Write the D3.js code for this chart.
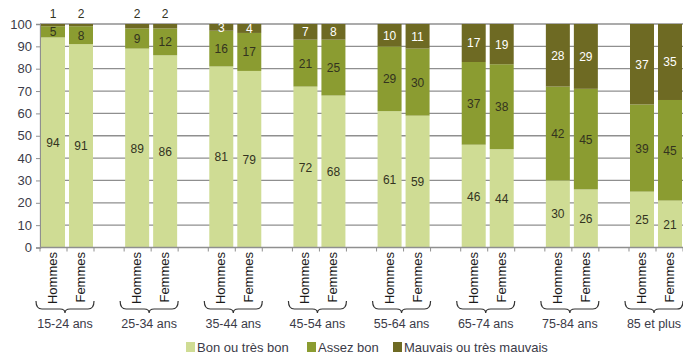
<!DOCTYPE html>
<html>
<head>
<meta charset="utf-8">
<script src="https://cdn.jsdelivr.net/npm/d3@7"></script>
<style>
	body { margin: 0; background: #fff; }
	svg { display: block; }
	text { font-family: "Liberation Sans", Arial, sans-serif; fill: #3b3b48; }
</style>
</head>
<body>
<div id="chart"></div>
<script>

// data
var ages = ["15-24 ans", "25-34 ans", "35-44 ans", "45-54 ans", "55-64 ans", "65-74 ans", "75-84 ans", "85 et plus"];
var sexes = ["Hommes", "Femmes"];
var bon_h = [94, 89, 81, 72, 61, 46, 30, 25];
var bon_f = [91, 86, 79, 68, 59, 44, 26, 21];
var assez_h = [5, 9, 16, 21, 29, 37, 42, 39];
var assez_f = [8, 12, 17, 25, 30, 38, 45, 45];
var mauvais_h = [1, 2, 3, 7, 10, 17, 28, 37];
var mauvais_f = [2, 2, 4, 8, 11, 19, 29, 35];
var series_names = ["Bon ou très bon", "Assez bon", "Mauvais ou très mauvais"];
var colors = ["#cfdc94", "#8b9c31", "#6e6a23"];
var y_ticks = [0, 10, 20, 30, 40, 50, 60, 70, 80, 90, 100];

function build_rows(){
	var rows = [];
	for (var i = 0; i < ages.length; i++){
		rows.push({age: ages[i], sex: "Hommes", v: [bon_h[i], assez_h[i], mauvais_h[i]]});
		rows.push({age: ages[i], sex: "Femmes", v: [bon_f[i], assez_f[i], mauvais_f[i]]});
	}
	return rows;
}

function render_chart(){
	var W = 683, H = 355;
	var svg = d3.select("#chart").append("svg")
		.attr("width", W).attr("height", H);

	var rows = build_rows();

	var x0 = d3.scaleBand().domain(ages).range([41, 682]).paddingInner(0.382).paddingOuter(0);
	var x1 = d3.scaleBand().domain(sexes).range([0, x0.bandwidth()]).paddingInner(0.143).paddingOuter(0);
	var y = d3.scaleLinear().domain([0, 100]).range([247.5, 24]).clamp(true);

	// grid lines
	svg.append("g")
		.selectAll("line")
		.data(y_ticks.slice(1))
		.enter().append("line")
		.attr("x1", 40).attr("x2", W)
		.attr("y1", function(d){ return y(d); })
		.attr("y2", function(d){ return y(d); })
		.attr("stroke", "#8f8f8f").attr("stroke-width", 1.3);

	// y axis
	var yAxis = svg.append("g")
		.attr("transform", "translate(40,0)")
		.call(d3.axisLeft(y).tickValues(y_ticks).tickSize(4).tickPadding(4));
	yAxis.select(".domain").attr("stroke", "#8f8f8f").attr("stroke-width", 1.3);
	yAxis.selectAll(".tick line").attr("stroke", "#8f8f8f");
	yAxis.selectAll("text").attr("font-size", 13).attr("fill", "#3b3b48")
		.attr("font-family", "Liberation Sans, Arial, sans-serif");

	// stacked bars
	var bars = svg.append("g").selectAll("g")
		.data(rows)
		.enter().append("g")
		.attr("transform", function(d){ return "translate(" + (x0(d.age) + x1(d.sex)) + ",0)"; });

	bars.each(function(d){
		var g = d3.select(this);
		var base = 0;
		for (var k = 0; k < 3; k++){
			var lo = base, hi = base + d.v[k];
			base = hi;
			g.append("rect")
				.attr("x", 0)
				.attr("width", x1.bandwidth())
				.attr("y", y(hi))
				.attr("height", y(lo) - y(hi))
				.attr("fill", colors[k]);
			var cy = (y(lo) + y(hi)) / 2;
			var small = d.v[k] <= 2 && k == 2;
			g.append("text")
				.attr("x", x1.bandwidth() / 2)
				.attr("y", small ? 18 : cy + 4.5)
				.attr("text-anchor", "middle")
				.attr("font-size", 12)
				.style("fill", (k == 2 && !small) ? "#ffffff" : "#33331f")
				.text(d.v[k]);
		}
	});

	// x axis line and ticks at bar edges
	svg.append("line")
		.attr("x1", 40).attr("x2", W)
		.attr("y1", y(0)).attr("y2", y(0))
		.attr("stroke", "#8f8f8f").attr("stroke-width", 1.3);
	var tick_pos = [];
	ages.forEach(function(a){
		tick_pos.push(x0(a) - 1, x0(a) + x1("Femmes") - 2, x0(a) + x0.bandwidth() + 1);
	});
	svg.append("g").selectAll("line")
		.data(tick_pos)
		.enter().append("line")
		.attr("x1", function(d){ return d; }).attr("x2", function(d){ return d; })
		.attr("y1", y(0)).attr("y2", y(0) + 4)
		.attr("stroke", "#8f8f8f");

	// sex labels (rotated)
	svg.append("g").selectAll("text")
		.data(rows)
		.enter().append("text")
		.attr("transform", function(d){
			var cx = x0(d.age) + x1(d.sex) + x1.bandwidth() / 2 + 4;
			return "translate(" + cx + ",252) rotate(-90)";
		})
		.attr("text-anchor", "end")
		.attr("font-size", 13)
		.style("fill", "#1a1a1a")
		.text(function(d){ return d.sex; });

	// braces and group labels
	var brace = svg.append("g");
	ages.forEach(function(a){
		var l = x0(a) - 5, r = x0(a) + x0.bandwidth() + 1, m = (l + r) / 2;
		var top = 301, mid = 309;
		var p = "M" + l + "," + top +
			" Q" + l + "," + mid + " " + (l + 6) + "," + mid +
			" L" + (m - 5) + "," + mid +
			" Q" + m + "," + mid + " " + m + "," + (mid + 4) +
			" Q" + m + "," + mid + " " + (m + 5) + "," + mid +
			" L" + (r - 6) + "," + mid +
			" Q" + r + "," + mid + " " + r + "," + top;
		brace.append("path").attr("d", p)
			.attr("fill", "none").attr("stroke", "#333").attr("stroke-width", 1.2);
		svg.append("text")
			.attr("x", m).attr("y", 328)
			.attr("text-anchor", "middle")
			.attr("font-size", 12.5)
			.text(a);
	});

	// legend
	var leg_x = [186, 307, 393];
	var legend = svg.append("g").selectAll("g")
		.data(series_names)
		.enter().append("g")
		.attr("transform", function(d, i){ return "translate(" + leg_x[i] + ",342)"; });
	legend.append("rect")
		.attr("width", 9).attr("height", 10)
		.attr("fill", function(d, i){ return colors[i]; });
	legend.append("text")
		.attr("x", 11).attr("y", 10)
		.attr("font-size", 13)
		.text(function(d){ return d; });
}

window.onload = render_chart;

</script>
</body>
</html>
